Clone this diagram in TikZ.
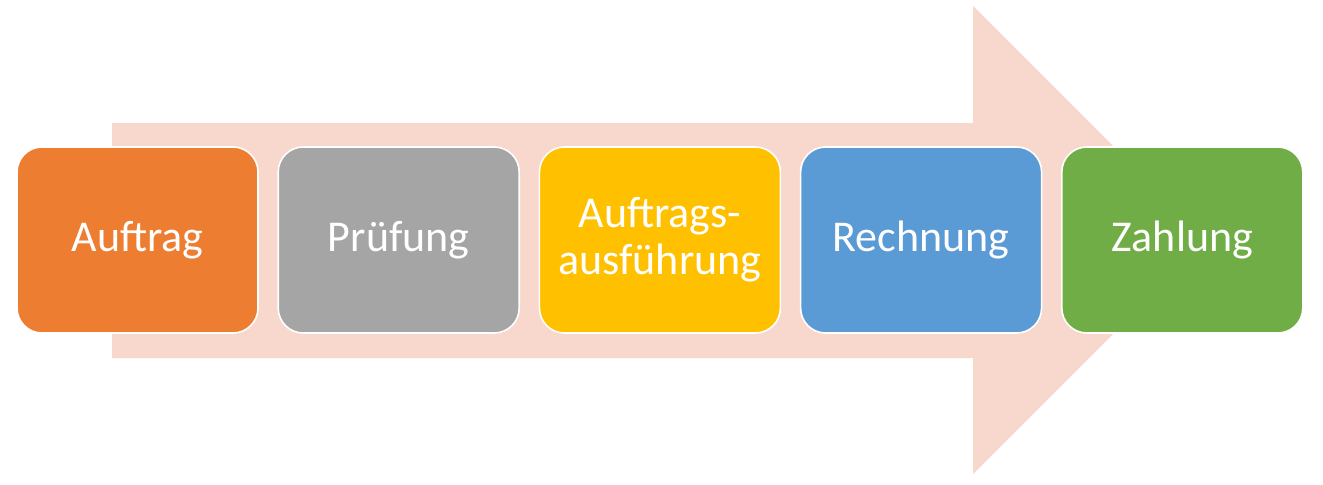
\documentclass[tikz,border=0pt]{standalone}
\usepackage{fontspec}
\setmainfont{Carlito}
\usetikzlibrary{positioning}

\definecolor{arrowbg}{HTML}{F8D7CC}
\definecolor{cOrange}{HTML}{ED7D31}
\definecolor{cGray}{HTML}{A5A5A5}
\definecolor{cGold}{HTML}{FFC000}
\definecolor{cBlue}{HTML}{5B9BD5}
\definecolor{cGreen}{HTML}{70AD47}

\begin{document}
\begin{tikzpicture}[
    x=0.5pt, y=-0.5pt,
    font=\fontsize{22}{23.5}\selectfont,
    node distance=10.1pt,
    stage/.style = {draw=white, line width=0.8pt, rounded corners=12.5pt,
                    minimum width=120.5pt, minimum height=93pt, outer sep=0pt,
                    inner sep=2pt, text=white, align=center},
]
\useasboundingbox (0,0) rectangle (1323,484);

% ============ background arrow ============
\fill[arrowbg] (112,123) -- (973,123) -- (973,6) -- (1207,240)
  -- (973,474) -- (973,358) -- (112,358) -- cycle;

% ============ process stages ============
\node[stage, fill=cOrange] (auftrag) at (137.5,240) {Auftrag};
\node[stage, fill=cGray, right=of auftrag] (pruefung) {Prüfung};
\node[stage, fill=cGold, right=of pruefung] (ausfuehrung) {Auftrags-\\ausführung};
\node[stage, fill=cBlue, right=of ausfuehrung] (rechnung) {Rechnung};
\node[stage, fill=cGreen, right=of rechnung] (zahlung) {Zahlung};

\end{tikzpicture}
\end{document}
